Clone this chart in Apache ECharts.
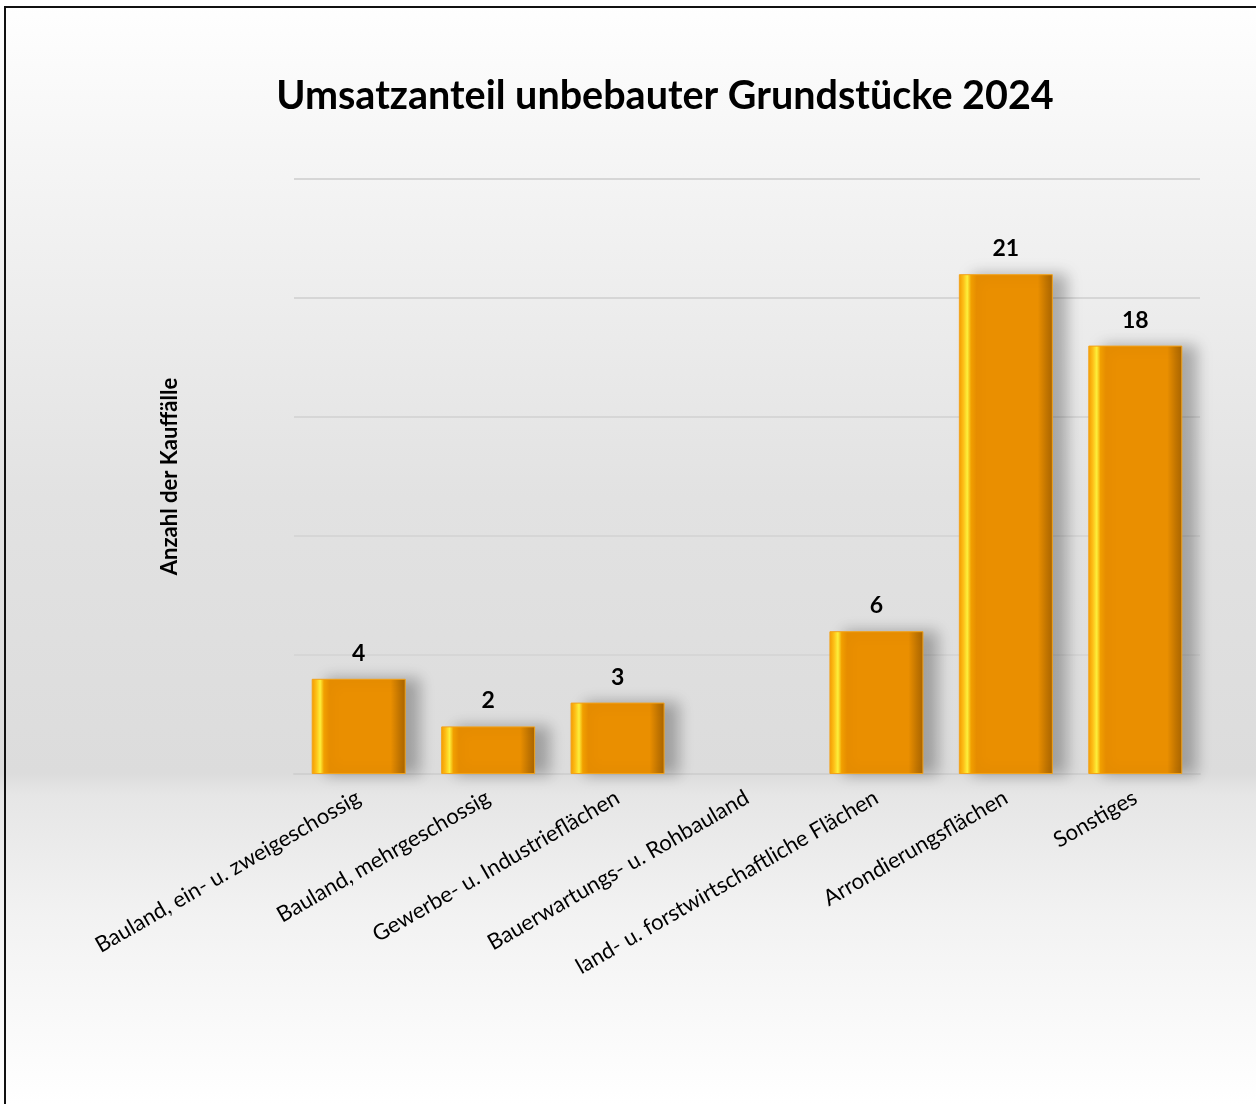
<!DOCTYPE html>
<html>
<head>
<meta charset="utf-8">
<script src="https://cdn.jsdelivr.net/npm/echarts@6/dist/echarts.min.js"></script>
<style>
html,body{margin:0;padding:0;background:#fff;}
#chart{width:1256px;height:1104px;}
</style>
</head>
<body>
<div id="chart"></div>
<script>
const categories = [
  'Bauland, ein- u. zweigeschossig',
  'Bauland, mehrgeschossig',
  'Gewerbe- u. Industrieflächen',
  'Bauerwartungs- u. Rohbauland',
  'land- u. forstwirtschaftliche Flächen',
  'Arrondierungsflächen',
  'Sonstiges'
];
const kauffaelle = [4, 2, 3, 0, 6, 21, 18];
const titleText = 'Umsatzanteil unbebauter Grundstücke 2024';
const yAxisName = 'Anzahl der Kauffälle';

const chart = echarts.init(document.getElementById('chart'));
const barGradient = new echarts.graphic.LinearGradient(0, 0, 1, 0, [
  { offset: 0.00, color: '#f39a00' },
  { offset: 0.05, color: '#ffc21a' },
  { offset: 0.09, color: '#fff23c' },
  { offset: 0.13, color: '#f5a200' },
  { offset: 0.19, color: '#ea8f00' },
  { offset: 0.84, color: '#ea8f00' },
  { offset: 0.93, color: '#c27500' },
  { offset: 1.00, color: '#a86400' }
]);
const barData = kauffaelle.map(v => v === 0
  ? { value: v, itemStyle: { opacity: 0 } }
  : { value: v });
const option = {
  animation: false,
  graphic: [
    {
      type: 'rect', z: -100, silent: true,
      shape: { x: 0, y: 0, width: 1256, height: 1104 },
      style: {
        fill: new echarts.graphic.LinearGradient(0, 0, 0, 1, [
          { offset: 0.00, color: '#ffffff' },
          { offset: 0.16, color: '#f4f4f4' },
          { offset: 0.45, color: '#e2e2e2' },
          { offset: 0.70, color: '#dcdcdc' },
          { offset: 0.72, color: '#e6e6e6' },
          { offset: 0.83, color: '#f2f2f2' },
          { offset: 1.00, color: '#ffffff' }
        ])
      }
    },
    {
      type: 'rect', z: 100, silent: true,
      shape: { x: 5, y: 7, width: 1300, height: 1200 },
      style: { fill: 'none', stroke: '#111', lineWidth: 2 }
    }
  ],
  title: {
    text: titleText,
    left: 660,
    top: 71,
    textAlign: 'center',
    textStyle: { fontFamily: 'Lato', fontWeight: 'bold', fontSize: 39.5, color: '#000' }
  },
  grid: { left: 294, right: 56, top: 179, bottom: 330, containLabel: false },
  xAxis: {
    type: 'category',
    data: categories,
    axisLine: { show: true, lineStyle: { color: '#d0d0d0', width: 2 } },
    axisTick: { show: false },
    axisLabel: {
      interval: 0,
      rotate: 30,
      margin: 22,
      fontFamily: 'Lato',
      fontSize: 22,
      color: '#000'
    }
  },
  yAxis: {
    type: 'value',
    min: 0, max: 25, interval: 5,
    name: yAxisName,
    nameLocation: 'middle',
    nameGap: 113,
    nameTextStyle: { fontFamily: 'Lato', fontWeight: 'bold', fontSize: 22, color: '#000' },
    axisLabel: { show: false },
    axisLine: { show: false },
    axisTick: { show: false },
    splitLine: { lineStyle: { color: '#d6d6d6', width: 2 } }
  },
  series: [{
    type: 'bar',
    data: barData,
    barWidth: 94,
    itemStyle: {
      color: barGradient,
      borderColor: '#f2a21a',
      borderWidth: 1,
      shadowColor: 'rgba(0,0,0,0.28)',
      shadowBlur: 14,
      shadowOffsetX: 14,
      shadowOffsetY: 0
    },
    label: {
      show: true,
      position: 'top',
      distance: 14,
      formatter: p => (p.value ? String(p.value) : ''),
      fontFamily: 'Lato',
      fontWeight: 'bold',
      fontSize: 23,
      color: '#000'
    }
  }]
};
chart.setOption(option);
</script>
</body>
</html>
